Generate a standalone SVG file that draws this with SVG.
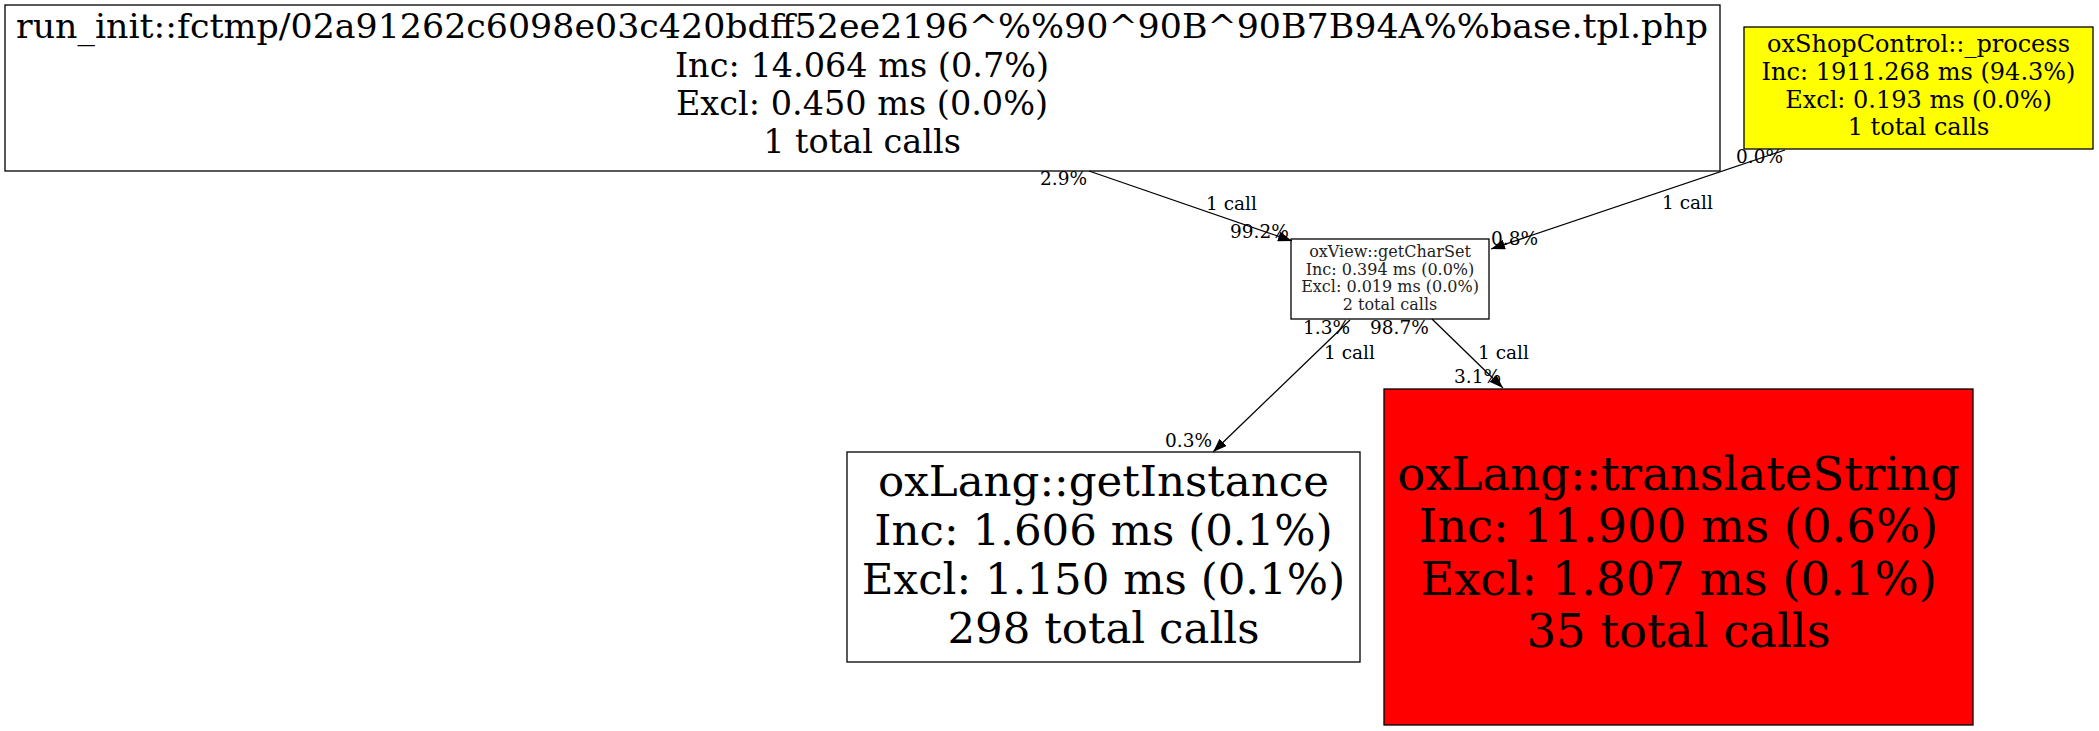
<svg xmlns="http://www.w3.org/2000/svg" width="2099" height="731" viewBox="0 0 2099 731">
<style>
text{font-family:"DejaVu Serif","Liberation Serif",serif;fill:#000}
.box{stroke:#000;stroke-width:1.3}
.n1 text{font-size:33.5px;text-anchor:middle}
.n2 text{font-size:24px;text-anchor:middle}
.n3 text{font-size:16px;text-anchor:middle;fill:#222}
.n4 text{font-size:43.5px;text-anchor:middle}
.n5 text{font-size:46.5px;text-anchor:middle}
.edge{stroke:#000;stroke-width:1.3;fill:none;marker-end:url(#arr)}
.lbl{font-size:18.5px}
</style>
<defs>
<marker id="arr" viewBox="0 0 14 10" refX="14" refY="5" markerWidth="14" markerHeight="10" markerUnits="userSpaceOnUse" orient="auto">
<path d="M0,0 L14,5 L0,10 z" fill="#000"/>
</marker>
</defs>
<rect width="2099" height="731" fill="#fff"/>
<g id="node-run_init" class="n1">
<rect class="box" x="5" y="5" width="1715" height="166" fill="#fff"/>
<text x="862" y="38" textLength="1692" lengthAdjust="spacingAndGlyphs">run_init::fctmp/02a91262c6098e03c420bdff52ee2196^%%90^90B^90B7B94A%%base.tpl.php</text>
<text x="862" y="77">Inc: 14.064 ms (0.7%)</text>
<text x="862" y="115">Excl: 0.450 ms (0.0%)</text>
<text x="862" y="153">1 total calls</text>
</g>
<g id="node-oxShopControl_process" class="n2">
<rect class="box" x="1744" y="27" width="349" height="122" fill="#ffff00"/>
<text x="1918.5" y="52">oxShopControl::_process</text>
<text x="1918.5" y="80">Inc: 1911.268 ms (94.3%)</text>
<text x="1918.5" y="108">Excl: 0.193 ms (0.0%)</text>
<text x="1918.5" y="135">1 total calls</text>
</g>
<g id="node-oxView_getCharSet" class="n3">
<rect class="box" x="1291" y="239" width="198" height="80" fill="#fff"/>
<text x="1390" y="257">oxView::getCharSet</text>
<text x="1390" y="274.5">Inc: 0.394 ms (0.0%)</text>
<text x="1390" y="292">Excl: 0.019 ms (0.0%)</text>
<text x="1390" y="309.5">2 total calls</text>
</g>
<g id="node-oxLang_getInstance" class="n4">
<rect class="box" x="847" y="452" width="513" height="210" fill="#fff"/>
<text x="1103.5" y="496">oxLang::getInstance</text>
<text x="1103.5" y="545">Inc: 1.606 ms (0.1%)</text>
<text x="1103.5" y="594">Excl: 1.150 ms (0.1%)</text>
<text x="1103.5" y="643">298 total calls</text>
</g>
<g id="node-oxLang_translateString" class="n5">
<rect class="box" x="1384" y="389" width="589" height="336" fill="#ff0000"/>
<text x="1678.5" y="490">oxLang::translateString</text>
<text x="1678.5" y="542">Inc: 11.900 ms (0.6%)</text>
<text x="1678.5" y="595">Excl: 1.807 ms (0.1%)</text>
<text x="1678.5" y="647">35 total calls</text>
</g>
<g id="connectors">
<path class="edge" d="M1089,171 L1292,241"/>
<text class="lbl" x="1040" y="185">2.9%</text>
<text class="lbl" x="1206" y="210">1 call</text>
<text class="lbl" x="1230" y="238">99.2%</text>
<path class="edge" d="M1785,150 L1491,249"/>
<text class="lbl" x="1736" y="163">0.0%</text>
<text class="lbl" x="1662" y="209">1 call</text>
<text class="lbl" x="1491" y="245">0.8%</text>
<path class="edge" d="M1350,320 L1213,452"/>
<text class="lbl" x="1303" y="334">1.3%</text>
<text class="lbl" x="1324" y="359">1 call</text>
<text class="lbl" x="1165" y="447">0.3%</text>
<path class="edge" d="M1432,319 L1503,388"/>
<text class="lbl" x="1370" y="334">98.7%</text>
<text class="lbl" x="1478" y="359">1 call</text>
<text class="lbl" x="1454" y="383">3.1%</text>
</g>
</svg>
